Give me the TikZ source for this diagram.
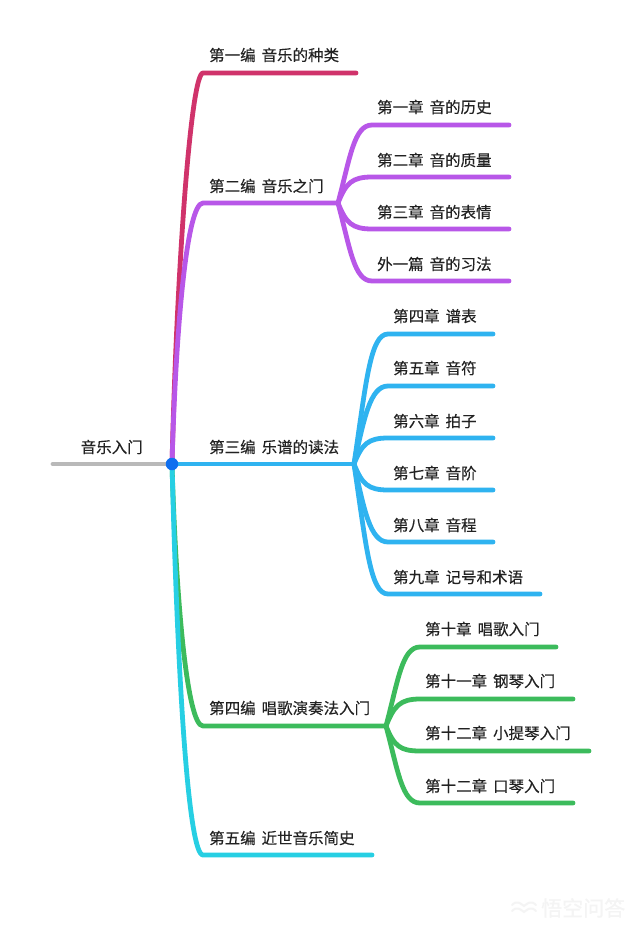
\documentclass[tikz,border=0pt]{standalone}
\usepackage{fontspec}
\setmainfont[WordSpace=1.7,FakeBold=0.25]{Noto Sans CJK SC}
\definecolor{cgrey}{HTML}{B9B9B9}
\definecolor{cred}{HTML}{D0336B}
\definecolor{cpurple}{HTML}{B857E8}
\definecolor{cblue}{HTML}{2FB3F0}
\definecolor{cgreen}{HTML}{3CBB5C}
\definecolor{ccyan}{HTML}{27CFE3}
\definecolor{cdot}{HTML}{0F6FEF}
\definecolor{ctext}{HTML}{222222}
\definecolor{cmark}{HTML}{F4F4F4}
\tikzset{
  x=1pt,y=-1pt,
  lab/.style={anchor=west,inner sep=0pt,text=ctext,font=\fontsize{15.5}{16}\selectfont},
  br/.style={line width=4.8pt,line cap=round,line join=round},
  mark text/.style={anchor=west,inner sep=0pt,text=cmark,font=\fontsize{21}{22}\selectfont}
}
\begin{document}
\begin{tikzpicture}
\useasboundingbox (0,0) rectangle (640,929);
\fill[white] (0,0) rectangle (640,929);
% hubs and ends
\coordinate (start) at (53,464);
\coordinate (root) at (172,464);
\coordinate (a1) at (203,73);   \coordinate (a1e) at (356,73);
\coordinate (a2) at (203,203);  \coordinate (a2j) at (338,203);
\coordinate (a3j) at (354,464);
\coordinate (a4) at (203,726);  \coordinate (a4j) at (386,726);
\coordinate (a5) at (203,855);  \coordinate (a5e) at (372,855);
% purple ends
\foreach \n/\y in {1/125,2/177,3/229,4/281}{
  \coordinate (p\n) at (372,\y); \coordinate (p\n e) at (509,\y);}
% blue ends
\foreach \n/\y/\e in {1/334/493,2/386/493,3/438/493,4/490/493,5/542/493,6/594/540}{
  \coordinate (b\n) at (388,\y); \coordinate (b\n e) at (\e,\y);}
% green ends
\foreach \n/\y/\e in {1/647/556,2/699/573,3/751/589,4/803/573}{
  \coordinate (g\n) at (420,\y); \coordinate (g\n e) at (\e,\y);}
% main branches
\draw[br,cgrey] (start) -- (root);
\draw[br,cred] (root) .. controls +(5,-200) and +(-12,0) .. (a1) -- (a1e);
\draw[br,cgreen] (root) .. controls +(4,135) and +(-16,0) .. (a4) -- (a4j);
\draw[br,ccyan] (root) .. controls +(6,230) and +(-14,0) .. (a5) -- (a5e);
\draw[br,cpurple] (root) .. controls +(4,-140) and +(-16,0) .. (a2) -- (a2j);
\draw[br,cblue] (root) -- (a3j);
% purple fan
\draw[br,cpurple] (a2j) .. controls +(12,-45) and +(-18,0) .. (p1) -- (p1e);
\draw[br,cpurple] (a2j) .. controls +(8,-20) and +(-20,0) .. (p2) -- (p2e);
\draw[br,cpurple] (a2j) .. controls +(8,20) and +(-20,0) .. (p3) -- (p3e);
\draw[br,cpurple] (a2j) .. controls +(12,45) and +(-18,0) .. (p4) -- (p4e);
% blue fan
\draw[br,cblue] (a3j) .. controls +(12,-80) and +(-18,0) .. (b1) -- (b1e);
\draw[br,cblue] (a3j) .. controls +(10,-45) and +(-18,0) .. (b2) -- (b2e);
\draw[br,cblue] (a3j) .. controls +(8,-20) and +(-20,0) .. (b3) -- (b3e);
\draw[br,cblue] (a3j) .. controls +(8,20) and +(-20,0) .. (b4) -- (b4e);
\draw[br,cblue] (a3j) .. controls +(10,45) and +(-18,0) .. (b5) -- (b5e);
\draw[br,cblue] (a3j) .. controls +(12,80) and +(-18,0) .. (b6) -- (b6e);
% green fan
\draw[br,cgreen] (a4j) .. controls +(12,-45) and +(-18,0) .. (g1) -- (g1e);
\draw[br,cgreen] (a4j) .. controls +(8,-20) and +(-20,0) .. (g2) -- (g2e);
\draw[br,cgreen] (a4j) .. controls +(8,20) and +(-20,0) .. (g3) -- (g3e);
\draw[br,cgreen] (a4j) .. controls +(12,45) and +(-18,0) .. (g4) -- (g4e);
% hub dot
\node[circle,fill=cdot,minimum size=12.5pt,inner sep=0pt] (hub) at (root) {};
% labels
\node[lab] (troot) at (80.5,447) {音乐入门};
\node[lab] (t1) at (209,55) {第一编 音乐的种类};
\node[lab] (t2) at (209,186) {第二编 音乐之门};
\node[lab] (t3) at (209,447) {第三编 乐谱的读法};
\node[lab] (t4) at (209,708) {第四编 唱歌演奏法入门};
\node[lab] (t5) at (209,838) {第五编 近世音乐简史};
\node[lab] (tp1) at (377,107) {第一章 音的历史};
\node[lab] (tp2) at (377,160) {第二章 音的质量};
\node[lab] (tp3) at (377,212) {第三章 音的表情};
\node[lab] (tp4) at (377,264) {外一篇 音的习法};
\node[lab] (tb1) at (393,316) {第四章 谱表};
\node[lab] (tb2) at (393,368) {第五章 音符};
\node[lab] (tb3) at (393,421) {第六章 拍子};
\node[lab] (tb4) at (393,473) {第七章 音阶};
\node[lab] (tb5) at (393,525) {第八章 音程};
\node[lab] (tb6) at (393,577) {第九章 记号和术语};
\node[lab] (tg1) at (425,629) {第十章 唱歌入门};
\node[lab] (tg2) at (425,681) {第十一章 钢琴入门};
\node[lab] (tg3) at (425,733) {第十二章 小提琴入门};
\node[lab] (tg4) at (425,786) {第十二章 口琴入门};
% watermark
\node[mark text] (wm) at (541,908) {悟空问答};
\draw[cmark,line width=2pt,line cap=round] (512,905) .. controls (517,900) and (520,903) .. (524,906) .. controls (528,903) and (531,900) .. (536,905);
\draw[cmark,line width=2pt,line cap=round] (512,911) .. controls (517,906) and (520,909) .. (524,912) .. controls (528,909) and (531,906) .. (536,911);
\end{tikzpicture}
\end{document}
